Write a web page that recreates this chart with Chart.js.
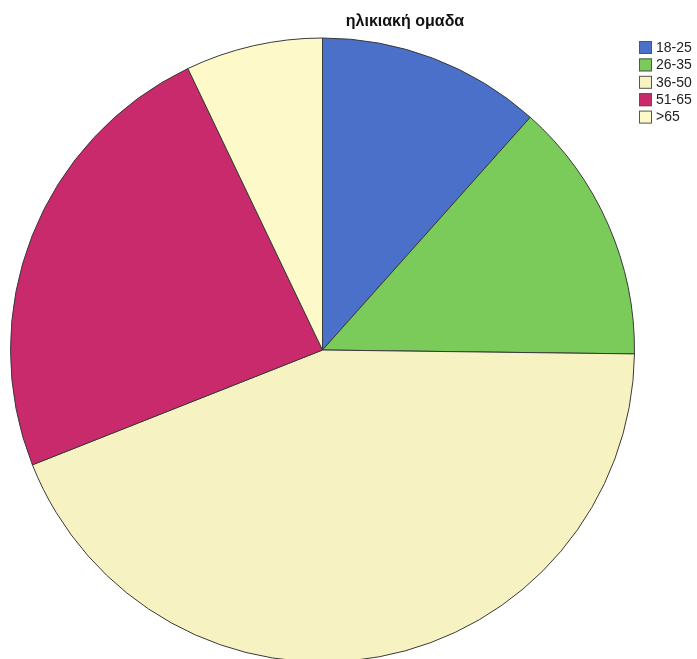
<!DOCTYPE html>
<html>
<head>
<meta charset="utf-8">
<script src="https://cdn.jsdelivr.net/npm/chart.js@4/dist/chart.umd.min.js"></script>
<style>
  html, body { margin: 0; padding: 0; background: #fff; overflow: hidden; }
</style>
</head>
<body>
<canvas id="c" width="697" height="672"></canvas>
<script>
const chartTitle = 'ηλικιακή ομαδα';
const ageGroups = ['18-25', '26-35', '36-50', '51-65', '>65'];
const sharePct = [11.6, 13.6, 43.8, 23.9, 7.1];
const sliceColors = ['#4b70c9', '#7bcb5a', '#f7f2c2', '#c92a6b', '#fdf9c9'];

// title + legend drawn by hand, to sit where the original has them
const decorations = {
  id: 'decorations',
  afterDraw(chart) {
    const ctx = chart.ctx;
    ctx.save();
    ctx.fillStyle = '#111';
    ctx.font = 'bold 16px "Liberation Sans", Arial, sans-serif';
    ctx.textAlign = 'center';
    ctx.textBaseline = 'middle';
    ctx.fillText(chartTitle, 405, 22);

    ctx.font = '14px "Liberation Sans", Arial, sans-serif';
    ctx.textAlign = 'left';
    ageGroups.forEach((label, i) => {
      const y = 47.5 + i * 17.4;
      ctx.fillStyle = sliceColors[i];
      ctx.fillRect(639, y - 6.5, 13, 13);
      ctx.strokeStyle = '#555';
      ctx.lineWidth = 1;
      ctx.strokeRect(639.5, y - 6, 12, 12);
      ctx.fillStyle = '#222';
      ctx.fillText(label, 656, y + 0.5);
    });
    ctx.restore();
  }
};

new Chart(document.getElementById('c'), {
  type: 'pie',
  data: {
    labels: ageGroups,
    datasets: [{
      data: sharePct,
      backgroundColor: sliceColors,
      borderColor: '#3a3a3a',
      borderWidth: 1
    }]
  },
  options: {
    responsive: false,
    animation: false,
    layout: { padding: { left: 10, right: 62, top: 37, bottom: 9 } },
    plugins: {
      legend: { display: false },
      title: { display: false },
      tooltip: { enabled: false }
    }
  },
  plugins: [decorations]
});
</script>
</body>
</html>
